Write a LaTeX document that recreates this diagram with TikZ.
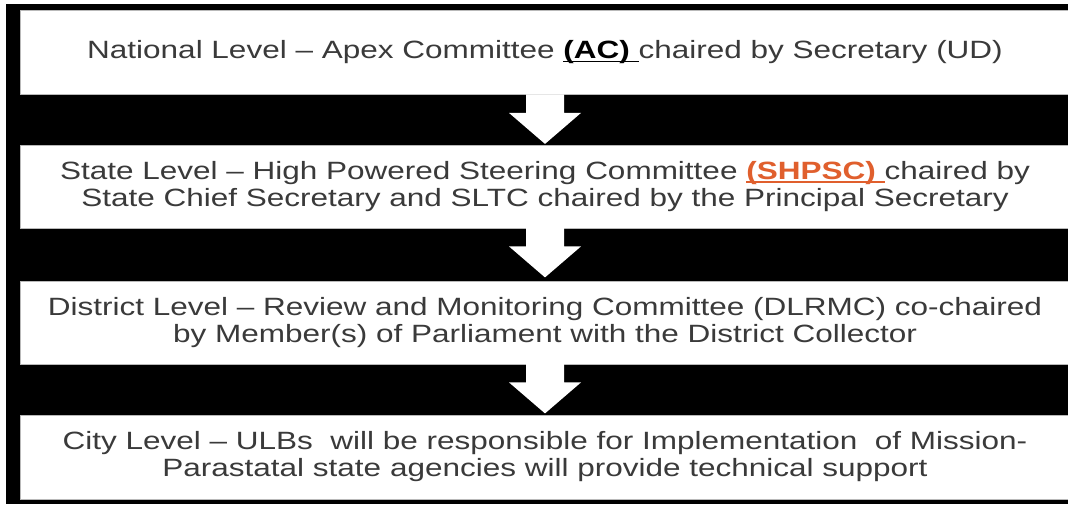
\documentclass[tikz,border=0pt]{standalone}
\usepackage{fontspec}
\setmainfont{Liberation Sans}[FakeStretch=1.26]
\usetikzlibrary{calc}
\definecolor{txt}{RGB}{58,58,58}
\definecolor{orng}{RGB}{224,95,45}
\newcommand\myul[1]{\setbox0\hbox{#1}\rlap{\rule[-3.5pt]{\wd0}{1.6pt}}\box0}
\tikzset{
  levelbox/.style={fill=white, draw=gray!55, line width=0.8pt, minimum width=1050pt,
    minimum height=84pt, inner sep=0pt, align=center, text=txt,
    font=\fontsize{25}{27}\selectfont},
  blockarrow/.style={fill=white, draw=none}
}
\begin{document}
\begin{tikzpicture}[x=1pt,y=-1pt]
\useasboundingbox (0,0) rectangle (1068,504);
\fill[white] (0,0) rectangle (1068,504);
\fill[black] (6,4) rectangle (1075,504);
\node[levelbox] (b1) at (545,52.5) {National Level -- Apex Committee \textcolor{black}{\myul{\textbf{(AC)}\ }}chaired by Secretary (UD)};
\node[levelbox, minimum height=83pt] (b2) at (545,186.5) {State Level -- High Powered Steering Committee \textcolor{orng}{\myul{\textbf{(SHPSC)}\ }}chaired by\\State Chief Secretary and SLTC chaired by the Principal Secretary};
\node[levelbox, minimum height=83pt] (b3) at (545,322.5) {District Level -- Review and Monitoring Committee (DLRMC) co-chaired\\by Member(s) of Parliament with the District Collector};
\node[levelbox] (b4) at (545,457) {City Level -- ULBs\ \ will be responsible for Implementation\ \ of Mission-\\Parastatal state agencies will provide technical support};
\foreach \a in {b1,b2,b3}{
  \fill[blockarrow] ($(\a.south)+(-19,-0.5)$) -- ($(\a.south)+(19,-0.5)$) -- ($(\a.south)+(19,18)$)
    -- ($(\a.south)+(36,18)$) -- ($(\a.south)+(0,49)$) -- ($(\a.south)+(-36,18)$)
    -- ($(\a.south)+(-19,18)$) -- cycle;
}
\end{tikzpicture}
\end{document}
